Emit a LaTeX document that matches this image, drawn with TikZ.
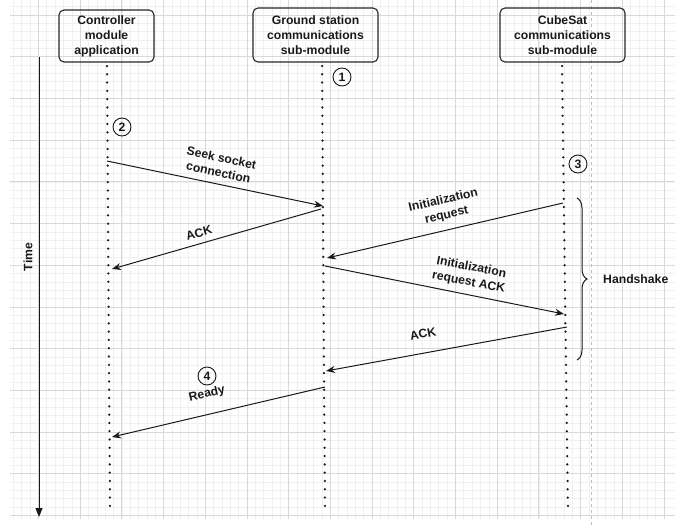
\documentclass[tikz,border=0pt]{standalone}
\usepackage{fontspec}
\setmainfont{Liberation Sans}
\usetikzlibrary{arrows.meta,decorations.pathreplacing}
\begin{document}
\begin{tikzpicture}[x=1pt,y=-1pt,
  txt/.style={font=\bfseries\fontsize{12.2}{15}\selectfont,align=center,text=black!90,inner sep=0pt},
  actor/.style={txt,draw=black!85,line width=1.1pt,rounded corners=5pt,minimum width=95pt,minimum height=52pt},
  life/.style={line width=2.5pt,dash pattern=on 0pt off 8.3pt,line cap=round,black!90},
  msg/.style={line width=1pt,black!90,-{Stealth[length=9pt,width=7pt,inset=3pt]}},
  num/.style={txt,circle,draw=black!90,line width=0.9pt,minimum size=18pt},
  lbl/.style={txt}]
\useasboundingbox (0,0) rectangle (675,525);
% grid
\begin{scope}
\clip (10,0) rectangle (675,518);
\foreach \i in {0,...,80} {
  \draw[black!6,line width=0.5pt] ({38.4-41.7+\i*8.34},0) -- ++(0,525);
  \draw[black!6,line width=0.5pt] (0,{15-41.7+\i*8.34}) -- ++(675,0);
}
\foreach \i in {0,...,16} {
  \draw[black!15,line width=0.7pt] ({38.4-41.7+\i*41.7},0) -- ++(0,525);
  \draw[black!15,line width=0.7pt] (0,{15-41.7+\i*41.7}) -- ++(675,0);
}
\end{scope}
\draw[black!25,line width=0.6pt,dash pattern=on 3pt off 3pt] (591,0) -- (591,525);
% actors
\node[actor,minimum width=95pt] (ctrl) at (106.5,36) {Controller\\module\\application};
\node[actor,minimum width=125pt,minimum height=54pt] (gs) at (315.5,35) {Ground station\\communications\\sub-module};
\node[actor,minimum width=125pt,minimum height=54pt] (cs) at (562.5,35) {CubeSat\\communications\\sub-module};
% lifeline ends
\coordinate (e1) at (110,513);
\coordinate (e2) at (325,513);
\coordinate (e3) at (568,513);
\draw[life] (107,66) -- (e1);
\draw[life] (322,66) -- (e2);
\draw[life] (562,66) -- (e3);
% time axis
\coordinate (t0) at (39,57);
\coordinate (t1) at (39,517);
\draw[line width=1pt,black!90,-{Stealth[length=9pt,width=7pt,inset=0pt]}] (t0) -- (t1);
\node[lbl,rotate=90] (time) at (28,257) {Time};
% numbers
\node[num] (n1) at (342,77) {1};
\node[num] (n2) at (122,127) {2};
\node[num] (n3) at (578,164) {3};
\node[num] (n4) at (207,376) {4};
% message points
\coordinate (a1s) at (107,161);  \coordinate (a1e) at (323,206);
\coordinate (a2s) at (321,209);  \coordinate (a2e) at (112,269);
\coordinate (a3s) at (563,203);  \coordinate (a3e) at (327,258);
\coordinate (a4s) at (325,266);  \coordinate (a4e) at (564,314);
\coordinate (a5s) at (567,327);  \coordinate (a5e) at (326,371);
\coordinate (a6s) at (325,387);  \coordinate (a6e) at (112,437);
\draw[msg] (a1s) -- (a1e);
\draw[msg] (a2s) -- (a2e);
\draw[msg] (a3s) -- (a3e);
\draw[msg] (a4s) -- (a4e);
\draw[msg] (a5s) -- (a5e);
\draw[msg] (a6s) -- (a6e);
% labels
\node[lbl,rotate=-12] (l1) at (220,165) {Seek socket\\connection};
\node[lbl,rotate=16] (l2) at (199,233) {ACK};
\node[lbl,rotate=13] (l3) at (445,208) {Initialization\\request};
\node[lbl,rotate=-11] (l4) at (470,275) {Initialization\\request ACK};
\node[lbl,rotate=11] (l5) at (423,334) {ACK};
\node[lbl,rotate=13] (l6) at (207,394) {Ready};
% brace
\coordinate (b0) at (577,198);
\coordinate (b1) at (577,360);
\draw[line width=1pt,black!90,decorate,decoration={brace,amplitude=10pt}] (b0) -- (b1);
\node[lbl,anchor=west] (hs) at (603,279) {Handshake};
\end{tikzpicture}
\end{document}
